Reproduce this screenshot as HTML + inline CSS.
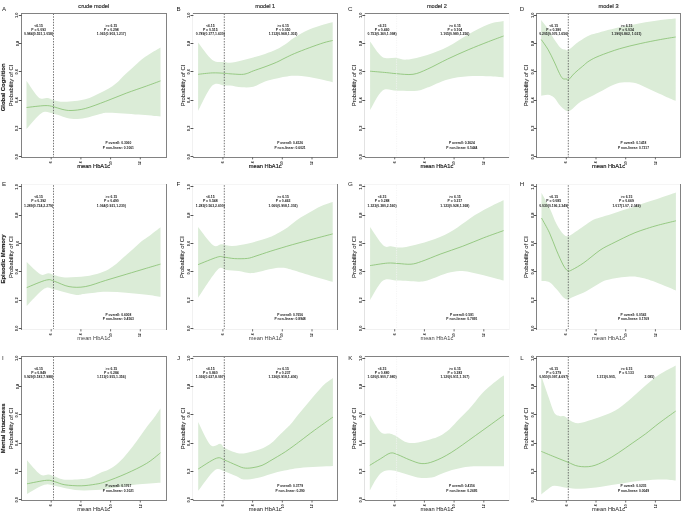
<!DOCTYPE html>
<html><head><meta charset="utf-8"><title>HbA1c RCS plots</title>
<style>html,body{margin:0;padding:0;background:#fff;width:685px;height:514px;overflow:hidden;font-family:"Liberation Sans",sans-serif;}svg{display:block;}</style>
</head><body><svg width="685" height="514" viewBox="0 0 685 514" font-family="Liberation Sans"><rect width="685" height="514" fill="#fff"/><path d="M26.50,80.70C28.53,83.48 35.12,94.50 38.70,97.40C42.28,100.30 45.55,97.63 48.00,98.10C50.45,98.57 50.58,99.58 53.40,100.20C56.22,100.82 59.58,101.95 64.90,101.80C70.22,101.65 79.45,100.78 85.30,99.30C91.15,97.82 96.17,94.65 100.00,92.90C103.83,91.15 105.55,90.45 108.30,88.80C111.05,87.15 113.75,85.35 116.50,83.00C119.25,80.65 122.03,77.32 124.80,74.70C127.57,72.08 130.35,69.78 133.10,67.30C135.85,64.82 138.55,62.02 141.30,59.80C144.05,57.58 146.40,56.05 149.60,54.00C152.80,51.95 158.68,48.58 160.50,47.50L160.50,116.60C156.85,116.27 147.10,115.25 138.60,114.60C130.10,113.95 115.93,112.82 109.50,112.70C103.07,112.58 104.08,113.03 100.00,113.90C95.92,114.77 89.77,117.08 85.00,117.90C80.23,118.72 76.67,119.50 71.40,118.80C66.13,118.10 58.33,114.68 53.40,113.70C48.47,112.72 46.28,110.35 41.80,112.90C37.32,115.45 29.05,126.32 26.50,129.00Z" fill="#dbecd7"/><path d="M26.50,107.50C29.57,107.18 40.42,105.73 44.90,105.60C49.38,105.47 50.55,106.08 53.40,106.70C56.25,107.32 59.07,108.67 62.00,109.30C64.93,109.93 67.12,110.63 71.00,110.50C74.88,110.37 79.52,110.03 85.30,108.50C91.08,106.97 98.88,103.85 105.70,101.30C112.52,98.75 119.38,95.75 126.20,93.20C133.02,90.65 140.88,88.05 146.60,86.00C152.32,83.95 158.18,81.75 160.50,80.90" fill="none" stroke="#80bd68" stroke-width="0.75"/><line x1="53.50" y1="13.50" x2="53.50" y2="157.20" stroke="#555" stroke-width="0.8" stroke-dasharray="1.5 1.25"/><line x1="21.00" y1="13.50" x2="167.00" y2="13.50" stroke="#828282" stroke-width="1"/><line x1="21.00" y1="157.50" x2="167.00" y2="157.50" stroke="#828282" stroke-width="1"/><line x1="21.50" y1="13.00" x2="21.50" y2="158.00" stroke="#828282" stroke-width="1"/><line x1="166.50" y1="13.00" x2="166.50" y2="158.00" stroke="#828282" stroke-width="1"/><line x1="51.20" y1="157.20" x2="51.20" y2="159.40" stroke="#5c5c5c" stroke-width="0.9"/><line x1="80.90" y1="157.20" x2="80.90" y2="159.40" stroke="#5c5c5c" stroke-width="0.9"/><line x1="110.60" y1="157.20" x2="110.60" y2="159.40" stroke="#5c5c5c" stroke-width="0.9"/><line x1="140.30" y1="157.20" x2="140.30" y2="159.40" stroke="#5c5c5c" stroke-width="0.9"/><path d="M198.10,42.60C200.47,45.50 207.88,56.77 212.30,60.00C216.72,63.23 221.65,61.53 224.60,62.00C227.55,62.47 227.15,63.07 230.00,62.80C232.85,62.53 237.82,61.28 241.70,60.40C245.58,59.52 249.42,58.57 253.30,57.50C257.18,56.43 261.10,55.37 265.00,54.00C268.90,52.63 273.37,50.88 276.70,49.30C280.03,47.72 282.02,46.47 285.00,44.50C287.98,42.53 290.57,39.98 294.60,37.50C298.63,35.02 304.33,31.77 309.20,29.60C314.07,27.43 319.88,25.72 323.80,24.50C327.72,23.28 331.22,22.67 332.70,22.30L332.70,82.20C331.22,81.83 327.72,80.87 323.80,80.00C319.88,79.13 314.07,77.70 309.20,77.00C304.33,76.30 298.63,75.83 294.60,75.80C290.57,75.77 287.98,76.35 285.00,76.80C282.02,77.25 280.03,77.73 276.70,78.50C273.37,79.27 268.90,80.03 265.00,81.40C261.10,82.77 257.18,85.72 253.30,86.70C249.42,87.68 245.58,87.50 241.70,87.30C237.82,87.10 232.85,85.78 230.00,85.50C227.15,85.22 227.55,85.58 224.60,85.60C221.65,85.62 216.72,81.35 212.30,85.60C207.88,89.85 200.47,106.85 198.10,111.10Z" fill="#dbecd7"/><path d="M198.10,74.30C200.47,74.07 207.88,73.07 212.30,72.90C216.72,72.73 221.65,73.15 224.60,73.30C227.55,73.45 227.15,73.62 230.00,73.80C232.85,73.98 238.78,74.48 241.70,74.40C244.62,74.32 245.57,73.88 247.50,73.30C249.43,72.72 250.38,71.98 253.30,70.90C256.22,69.82 261.10,68.25 265.00,66.80C268.90,65.35 273.37,63.67 276.70,62.20C280.03,60.73 282.02,59.45 285.00,58.00C287.98,56.55 290.57,55.20 294.60,53.50C298.63,51.80 304.33,49.60 309.20,47.80C314.07,46.00 319.88,43.92 323.80,42.70C327.72,41.48 331.22,40.87 332.70,40.50" fill="none" stroke="#80bd68" stroke-width="0.75"/><line x1="224.30" y1="13.50" x2="224.30" y2="157.20" stroke="#555" stroke-width="0.8" stroke-dasharray="1.5 1.25"/><line x1="192.00" y1="13.50" x2="338.00" y2="13.50" stroke="#828282" stroke-width="1"/><line x1="192.00" y1="157.50" x2="338.00" y2="157.50" stroke="#828282" stroke-width="1"/><line x1="192.50" y1="13.00" x2="192.50" y2="158.00" stroke="#f1f1f1" stroke-width="1"/><line x1="337.50" y1="13.00" x2="337.50" y2="158.00" stroke="#828282" stroke-width="1"/><line x1="222.90" y1="157.20" x2="222.90" y2="159.40" stroke="#5c5c5c" stroke-width="0.9"/><line x1="252.60" y1="157.20" x2="252.60" y2="159.40" stroke="#5c5c5c" stroke-width="0.9"/><line x1="282.30" y1="157.20" x2="282.30" y2="159.40" stroke="#5c5c5c" stroke-width="0.9"/><line x1="312.00" y1="157.20" x2="312.00" y2="159.40" stroke="#5c5c5c" stroke-width="0.9"/><path d="M370.10,41.60C372.13,44.15 377.87,54.18 382.30,56.90C386.73,59.62 392.60,57.45 396.70,57.90C400.80,58.35 401.80,60.10 406.90,59.60C412.00,59.10 420.50,57.05 427.30,54.90C434.10,52.75 440.88,50.12 447.70,46.70C454.52,43.28 461.38,38.15 468.20,34.40C475.02,30.65 482.70,26.43 488.60,24.20C494.50,21.97 501.10,21.53 503.60,21.00L503.60,77.40C501.10,77.22 494.50,76.48 488.60,76.30C482.70,76.12 475.02,75.78 468.20,76.30C461.38,76.82 454.52,77.52 447.70,79.40C440.88,81.28 432.40,85.72 427.30,87.60C422.20,89.48 422.20,90.18 417.10,90.70C412.00,91.22 402.50,90.70 396.70,90.70C390.90,90.70 386.73,87.47 382.30,90.70C377.87,93.93 372.13,106.87 370.10,110.10Z" fill="#dbecd7"/><path d="M370.10,71.20C372.82,71.43 381.97,72.18 386.40,72.60C390.83,73.02 392.27,73.42 396.70,73.70C401.13,73.98 407.90,75.05 413.00,74.30C418.10,73.55 421.52,71.75 427.30,69.20C433.08,66.65 440.88,62.23 447.70,59.00C454.52,55.77 461.38,52.70 468.20,49.80C475.02,46.90 482.70,43.90 488.60,41.60C494.50,39.30 501.10,36.93 503.60,36.00" fill="none" stroke="#80bd68" stroke-width="0.75"/><line x1="396.60" y1="13.50" x2="396.60" y2="157.20" stroke="#f2f2f2" stroke-width="0.8" stroke-dasharray="1.2 1.2"/><line x1="364.00" y1="13.50" x2="510.00" y2="13.50" stroke="#828282" stroke-width="1"/><line x1="364.00" y1="157.50" x2="510.00" y2="157.50" stroke="#828282" stroke-width="1"/><line x1="364.50" y1="13.00" x2="364.50" y2="158.00" stroke="#e2e2e2" stroke-width="1"/><line x1="509.50" y1="13.00" x2="509.50" y2="158.00" stroke="#f8f8f8" stroke-width="1"/><line x1="394.70" y1="157.20" x2="394.70" y2="159.40" stroke="#5c5c5c" stroke-width="0.9"/><line x1="424.40" y1="157.20" x2="424.40" y2="159.40" stroke="#5c5c5c" stroke-width="0.9"/><line x1="454.10" y1="157.20" x2="454.10" y2="159.40" stroke="#5c5c5c" stroke-width="0.9"/><line x1="483.80" y1="157.20" x2="483.80" y2="159.40" stroke="#5c5c5c" stroke-width="0.9"/><path d="M541.20,20.10C542.37,21.63 546.02,26.07 548.20,29.30C550.38,32.53 552.25,36.43 554.30,39.50C556.35,42.57 558.72,46.02 560.50,47.70C562.28,49.38 563.63,49.25 565.00,49.60C566.37,49.95 566.38,51.13 568.70,49.80C571.02,48.47 575.50,44.00 578.90,41.60C582.30,39.20 585.70,36.93 589.10,35.40C592.50,33.87 594.20,33.75 599.30,32.40C604.40,31.05 612.88,28.83 619.70,27.30C626.52,25.77 633.38,24.40 640.20,23.20C647.02,22.00 654.68,20.88 660.60,20.10C666.52,19.32 673.18,18.77 675.70,18.50L675.70,100.80C673.97,100.07 669.47,98.23 665.30,96.40C661.13,94.57 655.57,91.98 650.70,89.80C645.83,87.62 640.48,84.55 636.10,83.30C631.72,82.05 628.05,82.10 624.40,82.30C620.75,82.50 618.33,82.88 614.20,84.50C610.07,86.12 603.80,89.83 599.60,92.00C595.40,94.17 592.45,95.68 589.00,97.50C585.55,99.32 582.28,100.63 578.90,102.90C575.52,105.17 571.77,110.58 568.70,111.10C565.63,111.62 562.90,108.22 560.50,106.00C558.10,103.78 556.35,99.67 554.30,97.80C552.25,95.93 550.38,95.13 548.20,94.80C546.02,94.47 542.37,95.63 541.20,95.80Z" fill="#dbecd7"/><path d="M541.20,39.50C542.37,41.22 546.02,46.05 548.20,49.80C550.38,53.55 552.42,58.05 554.30,62.00C556.18,65.95 558.08,70.73 559.50,73.50C560.92,76.27 561.62,77.68 562.80,78.60C563.98,79.52 565.67,78.77 566.60,79.00C567.53,79.23 567.08,80.97 568.40,80.00C569.72,79.03 572.12,75.50 574.50,73.20C576.88,70.90 580.27,68.23 582.70,66.20C585.13,64.17 586.33,62.72 589.10,61.00C591.87,59.28 594.20,57.95 599.30,55.90C604.40,53.85 612.88,50.75 619.70,48.70C626.52,46.65 633.38,45.13 640.20,43.60C647.02,42.07 654.68,40.60 660.60,39.50C666.52,38.40 673.18,37.42 675.70,37.00" fill="none" stroke="#80bd68" stroke-width="0.75"/><line x1="568.30" y1="13.50" x2="568.30" y2="157.20" stroke="#555" stroke-width="0.8" stroke-dasharray="1.5 1.25"/><line x1="536.00" y1="13.50" x2="681.00" y2="13.50" stroke="#828282" stroke-width="1"/><line x1="536.00" y1="157.50" x2="681.00" y2="157.50" stroke="#828282" stroke-width="1"/><line x1="536.50" y1="13.00" x2="536.50" y2="158.00" stroke="#828282" stroke-width="1"/><line x1="680.50" y1="13.00" x2="680.50" y2="158.00" stroke="#828282" stroke-width="1"/><line x1="566.30" y1="157.20" x2="566.30" y2="159.40" stroke="#5c5c5c" stroke-width="0.9"/><line x1="596.00" y1="157.20" x2="596.00" y2="159.40" stroke="#5c5c5c" stroke-width="0.9"/><line x1="625.70" y1="157.20" x2="625.70" y2="159.40" stroke="#5c5c5c" stroke-width="0.9"/><line x1="655.40" y1="157.20" x2="655.40" y2="159.40" stroke="#5c5c5c" stroke-width="0.9"/><path d="M26.70,262.00C28.98,264.05 36.77,272.42 40.40,274.30C44.03,276.18 46.12,273.13 48.50,273.30C50.88,273.47 51.97,274.62 54.70,275.30C57.43,275.98 59.80,277.23 64.90,277.40C70.00,277.57 79.45,277.05 85.30,276.30C91.15,275.55 96.17,274.03 100.00,272.90C103.83,271.77 105.55,271.02 108.30,269.50C111.05,267.98 113.75,266.00 116.50,263.80C119.25,261.60 122.03,258.78 124.80,256.30C127.57,253.82 130.35,251.38 133.10,248.90C135.85,246.42 138.55,243.60 141.30,241.40C144.05,239.20 146.40,238.05 149.60,235.70C152.80,233.35 158.68,228.70 160.50,227.30L160.50,296.80C158.18,296.45 152.32,295.38 146.60,294.70C140.88,294.02 133.02,293.20 126.20,292.70C119.38,292.20 112.52,291.53 105.70,291.70C98.88,291.87 90.40,293.20 85.30,293.70C80.20,294.20 80.20,295.38 75.10,294.70C70.00,294.02 59.82,290.62 54.70,289.60C49.58,288.58 49.07,285.87 44.40,288.60C39.73,291.33 29.65,303.10 26.70,306.00Z" fill="#dbecd7"/><path d="M26.70,287.60C30.00,286.33 41.83,281.03 46.50,280.00C51.17,278.97 50.95,280.30 54.70,281.40C58.45,282.50 63.90,285.73 69.00,286.60C74.10,287.47 79.18,287.63 85.30,286.60C91.42,285.57 98.88,282.45 105.70,280.40C112.52,278.35 119.38,276.33 126.20,274.30C133.02,272.27 140.88,269.90 146.60,268.20C152.32,266.50 158.18,264.78 160.50,264.10" fill="none" stroke="#80bd68" stroke-width="0.75"/><line x1="53.50" y1="185.20" x2="53.50" y2="329.20" stroke="#555" stroke-width="0.8" stroke-dasharray="1.5 1.25"/><line x1="21.00" y1="184.50" x2="167.00" y2="184.50" stroke="#f5f5f5" stroke-width="1"/><line x1="21.00" y1="329.50" x2="167.00" y2="329.50" stroke="#f1f1f1" stroke-width="1"/><line x1="21.50" y1="184.00" x2="21.50" y2="330.00" stroke="#828282" stroke-width="1"/><line x1="166.50" y1="184.00" x2="166.50" y2="330.00" stroke="#828282" stroke-width="1"/><line x1="51.20" y1="329.20" x2="51.20" y2="331.40" stroke="#5c5c5c" stroke-width="0.9"/><line x1="80.90" y1="329.20" x2="80.90" y2="331.40" stroke="#5c5c5c" stroke-width="0.9"/><line x1="110.60" y1="329.20" x2="110.60" y2="331.40" stroke="#5c5c5c" stroke-width="0.9"/><line x1="140.30" y1="329.20" x2="140.30" y2="331.40" stroke="#5c5c5c" stroke-width="0.9"/><path d="M198.10,227.10C200.60,230.13 209.17,242.45 213.10,245.30C217.03,248.15 218.48,244.10 221.70,244.20C224.92,244.30 227.77,246.07 232.40,245.90C237.03,245.73 243.23,244.68 249.50,243.20C255.77,241.72 265.12,238.75 270.00,237.00C274.88,235.25 275.88,234.30 278.80,232.70C281.72,231.10 284.58,229.45 287.50,227.40C290.42,225.35 293.38,222.45 296.30,220.40C299.22,218.35 302.08,216.85 305.00,215.10C307.92,213.35 310.88,211.50 313.80,209.90C316.72,208.30 319.35,206.82 322.50,205.50C325.65,204.18 331.00,202.58 332.70,202.00L332.70,281.80C329.53,280.90 320.43,278.38 313.70,276.40C306.97,274.42 297.65,271.33 292.30,269.90C286.95,268.47 285.17,267.97 281.60,267.80C278.03,267.63 275.88,268.02 270.90,268.90C265.92,269.78 257.05,272.75 251.70,273.10C246.35,273.45 243.08,271.53 238.80,271.00C234.52,270.47 229.57,270.08 226.00,269.90C222.43,269.72 222.05,265.25 217.40,269.90C212.75,274.55 201.32,293.15 198.10,297.80Z" fill="#dbecd7"/><path d="M198.10,264.60C201.32,263.35 213.12,258.35 217.40,257.10C221.68,255.85 220.95,256.85 223.80,257.10C226.65,257.35 230.57,258.38 234.50,258.60C238.43,258.82 243.82,258.83 247.40,258.40C250.98,257.97 252.08,257.22 256.00,256.00C259.92,254.78 264.85,252.98 270.90,251.10C276.95,249.22 285.17,246.73 292.30,244.70C299.43,242.67 306.97,240.70 313.70,238.90C320.43,237.10 329.53,234.73 332.70,233.90" fill="none" stroke="#80bd68" stroke-width="0.75"/><line x1="224.30" y1="185.20" x2="224.30" y2="329.20" stroke="#555" stroke-width="0.8" stroke-dasharray="1.5 1.25"/><line x1="192.00" y1="184.50" x2="338.00" y2="184.50" stroke="#f5f5f5" stroke-width="1"/><line x1="192.00" y1="329.50" x2="338.00" y2="329.50" stroke="#f1f1f1" stroke-width="1"/><line x1="192.50" y1="184.00" x2="192.50" y2="330.00" stroke="#f1f1f1" stroke-width="1"/><line x1="337.50" y1="184.00" x2="337.50" y2="330.00" stroke="#828282" stroke-width="1"/><line x1="222.90" y1="329.20" x2="222.90" y2="331.40" stroke="#5c5c5c" stroke-width="0.9"/><line x1="252.60" y1="329.20" x2="252.60" y2="331.40" stroke="#5c5c5c" stroke-width="0.9"/><line x1="282.30" y1="329.20" x2="282.30" y2="331.40" stroke="#5c5c5c" stroke-width="0.9"/><line x1="312.00" y1="329.20" x2="312.00" y2="331.40" stroke="#5c5c5c" stroke-width="0.9"/><path d="M370.10,227.10C372.27,230.13 379.50,242.08 383.10,245.30C386.70,248.52 388.48,246.03 391.70,246.40C394.92,246.77 397.77,247.93 402.40,247.50C407.03,247.07 413.23,245.55 419.50,243.80C425.77,242.05 433.67,239.73 440.00,237.00C446.33,234.27 451.67,231.05 457.50,227.40C463.33,223.75 469.17,218.75 475.00,215.10C480.83,211.45 487.73,207.97 492.50,205.50C497.27,203.03 501.75,201.17 503.60,200.30L503.60,280.60C500.28,279.72 490.58,276.90 483.70,275.30C476.82,273.70 468.35,271.37 462.30,271.00C456.25,270.63 452.75,271.67 447.40,273.10C442.05,274.53 434.85,278.17 430.20,279.60C425.55,281.03 424.85,281.53 419.50,281.70C414.15,281.87 404.17,280.78 398.10,280.60C392.03,280.42 387.77,277.38 383.10,280.60C378.43,283.82 372.27,296.68 370.10,299.90Z" fill="#dbecd7"/><path d="M370.10,265.60C372.98,265.18 382.73,263.45 387.40,263.10C392.07,262.75 394.17,263.32 398.10,263.50C402.03,263.68 407.07,264.55 411.00,264.20C414.93,263.85 416.72,263.12 421.70,261.40C426.68,259.68 434.13,256.40 440.90,253.90C447.67,251.40 455.17,249.08 462.30,246.40C469.43,243.72 476.82,240.43 483.70,237.80C490.58,235.17 500.28,231.80 503.60,230.60" fill="none" stroke="#80bd68" stroke-width="0.75"/><line x1="396.60" y1="185.20" x2="396.60" y2="329.20" stroke="#f2f2f2" stroke-width="0.8" stroke-dasharray="1.2 1.2"/><line x1="364.00" y1="184.50" x2="510.00" y2="184.50" stroke="#f5f5f5" stroke-width="1"/><line x1="364.00" y1="329.50" x2="510.00" y2="329.50" stroke="#f1f1f1" stroke-width="1"/><line x1="364.50" y1="184.00" x2="364.50" y2="330.00" stroke="#e2e2e2" stroke-width="1"/><line x1="509.50" y1="184.00" x2="509.50" y2="330.00" stroke="#f8f8f8" stroke-width="1"/><line x1="394.70" y1="329.20" x2="394.70" y2="331.40" stroke="#5c5c5c" stroke-width="0.9"/><line x1="424.40" y1="329.20" x2="424.40" y2="331.40" stroke="#5c5c5c" stroke-width="0.9"/><line x1="454.10" y1="329.20" x2="454.10" y2="331.40" stroke="#5c5c5c" stroke-width="0.9"/><line x1="483.80" y1="329.20" x2="483.80" y2="331.40" stroke="#5c5c5c" stroke-width="0.9"/><path d="M541.50,192.70C542.83,195.20 547.02,202.53 549.50,207.70C551.98,212.87 554.12,219.32 556.40,223.70C558.68,228.08 561.30,231.90 563.20,234.00C565.10,236.10 566.27,236.30 567.80,236.30C569.33,236.30 569.72,235.72 572.40,234.00C575.08,232.28 580.63,228.25 583.90,226.00C587.17,223.75 589.32,221.92 592.00,220.50C594.68,219.08 596.72,218.58 600.00,217.50C603.28,216.42 607.80,215.27 611.70,214.00C615.60,212.73 619.52,211.17 623.40,209.90C627.28,208.63 631.12,207.67 635.00,206.40C638.88,205.13 642.53,203.70 646.70,202.30C650.87,200.90 655.13,199.63 660.00,198.00C664.87,196.37 673.25,193.42 675.90,192.50L675.90,290.50C672.05,288.93 658.57,283.23 652.80,281.10C647.03,278.97 645.13,278.47 641.30,277.70C637.47,276.93 635.53,276.12 629.80,276.50C624.07,276.88 612.63,278.47 606.90,280.00C601.17,281.53 599.23,283.60 595.40,285.70C591.57,287.80 587.73,290.68 583.90,292.60C580.07,294.52 575.08,296.05 572.40,297.20C569.72,298.35 569.33,299.50 567.80,299.50C566.27,299.50 565.10,298.93 563.20,297.20C561.30,295.47 558.68,291.60 556.40,289.10C554.12,286.60 551.98,283.53 549.50,282.20C547.02,280.87 542.83,281.28 541.50,281.10Z" fill="#dbecd7"/><path d="M541.50,218.00C542.83,220.48 547.02,227.55 549.50,232.90C551.98,238.25 554.12,244.75 556.40,250.10C558.68,255.45 561.30,261.55 563.20,265.00C565.10,268.45 566.27,270.03 567.80,270.80C569.33,271.57 569.72,270.95 572.40,269.60C575.08,268.25 579.30,265.93 583.90,262.70C588.50,259.47 595.37,253.35 600.00,250.20C604.63,247.05 607.80,245.83 611.70,243.80C615.60,241.77 619.52,239.85 623.40,238.00C627.28,236.15 631.12,234.27 635.00,232.70C638.88,231.13 642.80,229.87 646.70,228.60C650.60,227.33 653.53,226.40 658.40,225.10C663.27,223.80 672.98,221.52 675.90,220.80" fill="none" stroke="#80bd68" stroke-width="0.75"/><line x1="568.30" y1="185.20" x2="568.30" y2="329.20" stroke="#555" stroke-width="0.8" stroke-dasharray="1.5 1.25"/><line x1="536.00" y1="184.50" x2="681.00" y2="184.50" stroke="#f5f5f5" stroke-width="1"/><line x1="536.00" y1="329.50" x2="681.00" y2="329.50" stroke="#f1f1f1" stroke-width="1"/><line x1="536.50" y1="184.00" x2="536.50" y2="330.00" stroke="#828282" stroke-width="1"/><line x1="680.50" y1="184.00" x2="680.50" y2="330.00" stroke="#828282" stroke-width="1"/><line x1="566.30" y1="329.20" x2="566.30" y2="331.40" stroke="#5c5c5c" stroke-width="0.9"/><line x1="596.00" y1="329.20" x2="596.00" y2="331.40" stroke="#5c5c5c" stroke-width="0.9"/><line x1="625.70" y1="329.20" x2="625.70" y2="331.40" stroke="#5c5c5c" stroke-width="0.9"/><line x1="655.40" y1="329.20" x2="655.40" y2="331.40" stroke="#5c5c5c" stroke-width="0.9"/><path d="M27.00,460.30C29.23,462.68 36.82,472.22 40.40,474.60C43.98,476.98 46.12,474.27 48.50,474.60C50.88,474.93 51.97,475.75 54.70,476.60C57.43,477.45 59.80,479.35 64.90,479.70C70.00,480.05 80.62,479.23 85.30,478.70C89.98,478.17 90.55,477.45 93.00,476.50C95.45,475.55 97.30,474.20 100.00,473.00C102.70,471.80 106.12,471.00 109.20,469.30C112.28,467.60 115.42,465.57 118.50,462.80C121.58,460.03 124.62,456.38 127.70,452.70C130.78,449.02 133.92,444.87 137.00,440.70C140.08,436.53 143.12,431.87 146.20,427.70C149.28,423.53 153.12,418.93 155.50,415.70C157.88,412.47 159.67,409.53 160.50,408.30L160.50,482.80C156.48,483.08 143.82,483.73 136.40,484.50C128.98,485.27 122.82,486.48 116.00,487.40C109.18,488.32 102.32,489.57 95.50,490.00C88.68,490.43 81.90,490.70 75.10,490.00C68.30,489.30 59.82,486.67 54.70,485.80C49.58,484.93 49.02,483.43 44.40,484.80C39.78,486.17 29.90,492.47 27.00,494.00Z" fill="#dbecd7"/><path d="M27.00,483.80C30.25,483.22 41.88,480.65 46.50,480.30C51.12,479.95 51.63,480.95 54.70,481.70C57.77,482.45 60.48,484.12 64.90,484.80C69.32,485.48 76.10,485.90 81.20,485.80C86.30,485.70 91.42,484.88 95.50,484.20C99.58,483.52 100.58,483.47 105.70,481.70C110.82,479.93 119.38,476.65 126.20,473.60C133.02,470.55 140.88,466.87 146.60,463.40C152.32,459.93 158.18,454.57 160.50,452.80" fill="none" stroke="#80bd68" stroke-width="0.75"/><line x1="53.50" y1="356.50" x2="53.50" y2="500.30" stroke="#555" stroke-width="0.8" stroke-dasharray="1.5 1.25"/><line x1="21.00" y1="356.50" x2="167.00" y2="356.50" stroke="#828282" stroke-width="1"/><line x1="21.00" y1="500.50" x2="167.00" y2="500.50" stroke="#828282" stroke-width="1"/><line x1="21.50" y1="356.00" x2="21.50" y2="501.00" stroke="#828282" stroke-width="1"/><line x1="166.50" y1="356.00" x2="166.50" y2="501.00" stroke="#828282" stroke-width="1"/><line x1="51.20" y1="500.30" x2="51.20" y2="502.50" stroke="#5c5c5c" stroke-width="0.9"/><line x1="80.90" y1="500.30" x2="80.90" y2="502.50" stroke="#5c5c5c" stroke-width="0.9"/><line x1="110.60" y1="500.30" x2="110.60" y2="502.50" stroke="#5c5c5c" stroke-width="0.9"/><line x1="140.30" y1="500.30" x2="140.30" y2="502.50" stroke="#5c5c5c" stroke-width="0.9"/><path d="M198.20,422.00C200.23,425.82 206.67,441.25 210.40,444.90C214.13,448.55 218.22,443.38 220.60,443.90C222.98,444.42 221.98,446.48 224.70,448.00C227.42,449.52 233.52,452.13 236.90,453.00C240.28,453.87 241.52,453.70 245.00,453.20C248.48,452.70 254.37,451.07 257.80,450.00C261.23,448.93 263.02,448.23 265.60,446.80C268.18,445.37 270.72,443.60 273.30,441.40C275.88,439.20 278.98,435.70 281.10,433.60C283.22,431.50 284.38,430.40 286.00,428.80C287.62,427.20 289.02,426.07 290.80,424.00C292.58,421.93 294.75,418.83 296.70,416.40C298.65,413.97 300.55,411.73 302.50,409.40C304.45,407.07 306.45,404.73 308.40,402.40C310.35,400.07 312.27,397.65 314.20,395.40C316.13,393.15 318.05,390.95 320.00,388.90C321.95,386.85 323.75,384.93 325.90,383.10C328.05,381.27 331.73,378.77 332.90,377.90L332.90,466.10C327.42,466.40 308.07,467.15 300.00,467.90C291.93,468.65 289.35,469.58 284.50,470.60C279.65,471.62 275.45,472.75 270.90,474.00C266.35,475.25 261.75,477.18 257.20,478.10C252.65,479.02 247.13,479.85 243.60,479.50C240.07,479.15 239.15,477.35 236.00,476.00C232.85,474.65 228.28,472.33 224.70,471.40C221.12,470.47 218.92,467.17 214.50,470.40C210.08,473.63 200.92,487.40 198.20,490.80Z" fill="#dbecd7"/><path d="M198.20,469.00C201.25,467.20 212.08,459.67 216.50,458.20C220.92,456.73 221.45,459.07 224.70,460.20C227.95,461.33 232.85,463.72 236.00,465.00C239.15,466.28 240.93,467.43 243.60,467.90C246.27,468.37 248.93,468.22 252.00,467.80C255.07,467.38 259.03,466.52 262.00,465.40C264.97,464.28 267.20,462.58 269.80,461.10C272.40,459.62 275.02,458.05 277.60,456.50C280.18,454.95 282.72,453.50 285.30,451.80C287.88,450.10 290.50,448.18 293.10,446.30C295.70,444.42 297.35,443.17 300.90,440.50C304.45,437.83 309.07,434.20 314.40,430.30C319.73,426.40 329.82,419.30 332.90,417.10" fill="none" stroke="#80bd68" stroke-width="0.75"/><line x1="224.30" y1="356.50" x2="224.30" y2="500.30" stroke="#555" stroke-width="0.8" stroke-dasharray="1.5 1.25"/><line x1="192.00" y1="356.50" x2="338.00" y2="356.50" stroke="#828282" stroke-width="1"/><line x1="192.00" y1="500.50" x2="338.00" y2="500.50" stroke="#828282" stroke-width="1"/><line x1="192.50" y1="356.00" x2="192.50" y2="501.00" stroke="#f1f1f1" stroke-width="1"/><line x1="337.50" y1="356.00" x2="337.50" y2="501.00" stroke="#828282" stroke-width="1"/><line x1="222.90" y1="500.30" x2="222.90" y2="502.50" stroke="#5c5c5c" stroke-width="0.9"/><line x1="252.60" y1="500.30" x2="252.60" y2="502.50" stroke="#5c5c5c" stroke-width="0.9"/><line x1="282.30" y1="500.30" x2="282.30" y2="502.50" stroke="#5c5c5c" stroke-width="0.9"/><line x1="312.00" y1="500.30" x2="312.00" y2="502.50" stroke="#5c5c5c" stroke-width="0.9"/><path d="M369.80,415.00C371.60,417.83 377.18,428.88 380.60,432.00C384.02,435.12 387.87,433.10 390.30,433.70C392.73,434.30 392.77,434.27 395.20,435.60C397.63,436.93 401.67,440.48 404.90,441.70C408.13,442.92 410.42,443.28 414.60,442.90C418.78,442.52 425.82,440.55 430.00,439.40C434.18,438.25 436.45,437.70 439.70,436.00C442.95,434.30 446.25,432.03 449.50,429.20C452.75,426.37 456.00,422.28 459.20,419.00C462.40,415.72 466.27,412.08 468.70,409.50C471.13,406.92 471.50,406.25 473.80,403.50C476.10,400.75 479.58,396.07 482.50,393.00C485.42,389.93 488.38,387.58 491.30,385.10C494.22,382.62 497.88,379.70 500.00,378.10C502.12,376.50 503.33,375.93 504.00,375.50L504.00,466.30C501.67,466.28 495.03,466.20 490.00,466.20C484.97,466.20 478.32,466.10 473.80,466.30C469.28,466.50 466.55,466.77 462.90,467.40C459.25,468.03 455.55,469.00 451.90,470.10C448.25,471.20 443.97,472.87 441.00,474.00C438.03,475.13 436.95,476.23 434.10,476.90C431.25,477.57 426.98,478.00 423.90,478.00C420.82,478.00 418.37,477.48 415.60,476.90C412.83,476.32 410.05,475.32 407.30,474.50C404.55,473.68 401.85,472.70 399.10,472.00C396.35,471.30 393.57,470.30 390.80,470.30C388.03,470.30 384.98,470.48 382.50,472.00C380.02,473.52 378.02,476.32 375.90,479.40C373.78,482.48 370.82,488.65 369.80,490.50Z" fill="#dbecd7"/><path d="M369.80,465.30C371.60,464.20 377.18,460.73 380.60,458.70C384.02,456.67 387.47,453.78 390.30,453.10C393.13,452.42 394.35,453.47 397.60,454.60C400.85,455.73 405.75,458.40 409.80,459.90C413.85,461.40 417.85,463.38 421.90,463.60C425.95,463.82 429.23,463.03 434.10,461.20C438.97,459.37 444.22,456.87 451.10,452.60C457.98,448.33 466.58,441.87 475.40,435.60C484.22,429.33 499.23,418.43 504.00,415.00" fill="none" stroke="#80bd68" stroke-width="0.75"/><line x1="396.60" y1="356.50" x2="396.60" y2="500.30" stroke="#f2f2f2" stroke-width="0.8" stroke-dasharray="1.2 1.2"/><line x1="364.00" y1="356.50" x2="510.00" y2="356.50" stroke="#828282" stroke-width="1"/><line x1="364.00" y1="500.50" x2="510.00" y2="500.50" stroke="#828282" stroke-width="1"/><line x1="364.50" y1="356.00" x2="364.50" y2="501.00" stroke="#e2e2e2" stroke-width="1"/><line x1="509.50" y1="356.00" x2="509.50" y2="501.00" stroke="#f8f8f8" stroke-width="1"/><line x1="394.70" y1="500.30" x2="394.70" y2="502.50" stroke="#5c5c5c" stroke-width="0.9"/><line x1="424.40" y1="500.30" x2="424.40" y2="502.50" stroke="#5c5c5c" stroke-width="0.9"/><line x1="454.10" y1="500.30" x2="454.10" y2="502.50" stroke="#5c5c5c" stroke-width="0.9"/><line x1="483.80" y1="500.30" x2="483.80" y2="502.50" stroke="#5c5c5c" stroke-width="0.9"/><path d="M541.30,376.10C542.53,379.68 546.57,391.55 548.70,397.60C550.83,403.65 552.30,409.35 554.10,412.40C555.90,415.45 557.70,415.23 559.50,415.90C561.30,416.57 563.12,415.63 564.90,416.40C566.68,417.17 567.97,419.37 570.20,420.50C572.43,421.63 574.72,423.33 578.30,423.20C581.88,423.07 587.22,421.05 591.70,419.70C596.18,418.35 600.72,416.98 605.20,415.10C609.68,413.22 614.12,411.32 618.60,408.40C623.08,405.48 627.62,401.42 632.10,397.60C636.58,393.78 641.02,389.30 645.50,385.50C649.98,381.70 653.97,378.15 659.00,374.80C664.03,371.45 672.92,366.97 675.70,365.40L675.70,480.60C673.53,480.42 668.28,479.50 662.70,479.50C657.12,479.50 649.02,479.92 642.20,480.60C635.38,481.28 628.62,482.58 621.80,483.60C614.98,484.62 608.12,485.85 601.30,486.70C594.48,487.55 586.68,488.53 580.90,488.70C575.12,488.87 571.03,488.20 566.60,487.70C562.17,487.20 557.28,485.57 554.30,485.70C551.32,485.83 550.87,487.05 548.70,488.50C546.53,489.95 542.53,493.42 541.30,494.40Z" fill="#dbecd7"/><path d="M541.30,451.40C543.43,452.28 549.72,454.92 554.10,456.70C558.48,458.48 563.57,460.52 567.60,462.10C571.63,463.68 574.28,465.52 578.30,466.20C582.32,466.88 587.22,467.10 591.70,466.20C596.18,465.30 600.72,463.05 605.20,460.80C609.68,458.55 614.12,455.62 618.60,452.70C623.08,449.78 627.62,446.43 632.10,443.30C636.58,440.17 641.02,437.25 645.50,433.90C649.98,430.55 653.97,427.00 659.00,423.20C664.03,419.40 672.92,413.12 675.70,411.10" fill="none" stroke="#80bd68" stroke-width="0.75"/><line x1="568.30" y1="356.50" x2="568.30" y2="500.30" stroke="#555" stroke-width="0.8" stroke-dasharray="1.5 1.25"/><line x1="536.00" y1="356.50" x2="681.00" y2="356.50" stroke="#828282" stroke-width="1"/><line x1="536.00" y1="500.50" x2="681.00" y2="500.50" stroke="#828282" stroke-width="1"/><line x1="536.50" y1="356.00" x2="536.50" y2="501.00" stroke="#828282" stroke-width="1"/><line x1="680.50" y1="356.00" x2="680.50" y2="501.00" stroke="#828282" stroke-width="1"/><line x1="566.30" y1="500.30" x2="566.30" y2="502.50" stroke="#5c5c5c" stroke-width="0.9"/><line x1="596.00" y1="500.30" x2="596.00" y2="502.50" stroke="#5c5c5c" stroke-width="0.9"/><line x1="625.70" y1="500.30" x2="625.70" y2="502.50" stroke="#5c5c5c" stroke-width="0.9"/><line x1="655.40" y1="500.30" x2="655.40" y2="502.50" stroke="#5c5c5c" stroke-width="0.9"/><g style="filter:grayscale(1)"><line x1="18.80" y1="15.50" x2="21.70" y2="15.50" stroke="#555" stroke-width="1"/><text x="18.50" y="15.20" font-size="4.00" text-anchor="middle" font-weight="bold" fill="#222" transform="rotate(-90 18.50 15.20)">1.0</text><line x1="18.80" y1="43.50" x2="21.70" y2="43.50" stroke="#555" stroke-width="1"/><text x="18.50" y="43.50" font-size="4.00" text-anchor="middle" font-weight="bold" fill="#222" transform="rotate(-90 18.50 43.50)">0.8</text><line x1="18.80" y1="71.50" x2="21.70" y2="71.50" stroke="#555" stroke-width="1"/><text x="18.50" y="71.80" font-size="4.00" text-anchor="middle" font-weight="bold" fill="#222" transform="rotate(-90 18.50 71.80)">0.6</text><line x1="18.80" y1="100.50" x2="21.70" y2="100.50" stroke="#555" stroke-width="1"/><text x="18.50" y="100.10" font-size="4.00" text-anchor="middle" font-weight="bold" fill="#222" transform="rotate(-90 18.50 100.10)">0.4</text><line x1="18.80" y1="128.50" x2="21.70" y2="128.50" stroke="#555" stroke-width="1"/><text x="18.50" y="128.40" font-size="4.00" text-anchor="middle" font-weight="bold" fill="#222" transform="rotate(-90 18.50 128.40)">0.2</text><line x1="18.80" y1="156.50" x2="21.70" y2="156.50" stroke="#555" stroke-width="1"/><text x="18.50" y="156.70" font-size="4.00" text-anchor="middle" font-weight="bold" fill="#222" transform="rotate(-90 18.50 156.70)">0.0</text><text x="52.40" y="161.40" font-size="3.30" text-anchor="end" font-weight="bold" fill="#222" transform="rotate(-90 52.40 161.40)">6</text><text x="82.10" y="161.40" font-size="3.30" text-anchor="end" font-weight="bold" fill="#222" transform="rotate(-90 82.10 161.40)">8</text><text x="111.80" y="161.40" font-size="3.30" text-anchor="end" font-weight="bold" fill="#222" transform="rotate(-90 111.80 161.40)">10</text><text x="141.50" y="161.40" font-size="3.30" text-anchor="end" font-weight="bold" fill="#222" transform="rotate(-90 141.50 161.40)">12</text><text x="93.75" y="168.30" font-size="5.70" text-anchor="middle" font-weight="normal" fill="#222" stroke="#222" stroke-width="0.18">mean HbA1c</text><text x="12.80" y="85.50" font-size="5.90" text-anchor="middle" font-weight="normal" fill="#222" transform="rotate(-90 12.80 85.50)" stroke="#222" stroke-width="0.08">Probability of CI</text><text x="1.90" y="11.00" font-size="6.20" text-anchor="start" font-weight="normal" fill="#222">A</text><text x="38.60" y="26.90" font-size="3.45" text-anchor="middle" font-weight="bold" fill="#222">&lt;6.15</text><text x="38.60" y="31.10" font-size="3.45" text-anchor="middle" font-weight="bold" fill="#222">P = 0.093</text><text x="38.60" y="35.30" font-size="3.45" text-anchor="middle" font-weight="bold" fill="#222">0.984(0.551,1.058)</text><text x="111.40" y="26.90" font-size="3.45" text-anchor="middle" font-weight="bold" fill="#222">&gt;= 6.15</text><text x="111.40" y="31.10" font-size="3.45" text-anchor="middle" font-weight="bold" fill="#222">P = 0.298</text><text x="111.40" y="35.30" font-size="3.45" text-anchor="middle" font-weight="bold" fill="#222">1.061(0.903,1.217)</text><text x="118.40" y="144.20" font-size="3.30" text-anchor="middle" font-weight="bold" fill="#222">P overall: 0.3060</text><text x="118.40" y="148.50" font-size="3.30" text-anchor="middle" font-weight="bold" fill="#222">P non-linear: 0.1061</text><line x1="190.50" y1="15.50" x2="193.40" y2="15.50" stroke="#555" stroke-width="1"/><text x="190.20" y="15.20" font-size="4.00" text-anchor="middle" font-weight="bold" fill="#222" transform="rotate(-90 190.20 15.20)">1.0</text><line x1="190.50" y1="43.50" x2="193.40" y2="43.50" stroke="#555" stroke-width="1"/><text x="190.20" y="43.50" font-size="4.00" text-anchor="middle" font-weight="bold" fill="#222" transform="rotate(-90 190.20 43.50)">0.8</text><line x1="190.50" y1="71.50" x2="193.40" y2="71.50" stroke="#555" stroke-width="1"/><text x="190.20" y="71.80" font-size="4.00" text-anchor="middle" font-weight="bold" fill="#222" transform="rotate(-90 190.20 71.80)">0.6</text><line x1="190.50" y1="100.50" x2="193.40" y2="100.50" stroke="#555" stroke-width="1"/><text x="190.20" y="100.10" font-size="4.00" text-anchor="middle" font-weight="bold" fill="#222" transform="rotate(-90 190.20 100.10)">0.4</text><line x1="190.50" y1="128.50" x2="193.40" y2="128.50" stroke="#555" stroke-width="1"/><text x="190.20" y="128.40" font-size="4.00" text-anchor="middle" font-weight="bold" fill="#222" transform="rotate(-90 190.20 128.40)">0.2</text><line x1="190.50" y1="156.50" x2="193.40" y2="156.50" stroke="#555" stroke-width="1"/><text x="190.20" y="156.70" font-size="4.00" text-anchor="middle" font-weight="bold" fill="#222" transform="rotate(-90 190.20 156.70)">0.0</text><text x="224.10" y="161.40" font-size="3.30" text-anchor="end" font-weight="bold" fill="#222" transform="rotate(-90 224.10 161.40)">6</text><text x="253.80" y="161.40" font-size="3.30" text-anchor="end" font-weight="bold" fill="#222" transform="rotate(-90 253.80 161.40)">8</text><text x="283.50" y="161.40" font-size="3.30" text-anchor="end" font-weight="bold" fill="#222" transform="rotate(-90 283.50 161.40)">10</text><text x="313.20" y="161.40" font-size="3.30" text-anchor="end" font-weight="bold" fill="#222" transform="rotate(-90 313.20 161.40)">12</text><text x="265.25" y="168.30" font-size="5.70" text-anchor="middle" font-weight="normal" fill="#222" stroke="#222" stroke-width="0.18">mean HbA1c</text><text x="184.50" y="85.50" font-size="5.90" text-anchor="middle" font-weight="normal" fill="#222" transform="rotate(-90 184.50 85.50)" stroke="#222" stroke-width="0.08">Probability of CI</text><text x="178.50" y="11.00" font-size="6.20" text-anchor="middle" font-weight="normal" fill="#222">B</text><text x="210.30" y="26.90" font-size="3.45" text-anchor="middle" font-weight="bold" fill="#222">&lt;6.15</text><text x="210.30" y="31.10" font-size="3.45" text-anchor="middle" font-weight="bold" fill="#222">P = 0.515</text><text x="210.30" y="35.30" font-size="3.45" text-anchor="middle" font-weight="bold" fill="#222">0.789(0.377,1.630)</text><text x="283.10" y="26.90" font-size="3.45" text-anchor="middle" font-weight="bold" fill="#222">&gt;= 6.15</text><text x="283.10" y="31.10" font-size="3.45" text-anchor="middle" font-weight="bold" fill="#222">P &lt; 0.050</text><text x="283.10" y="35.30" font-size="3.45" text-anchor="middle" font-weight="bold" fill="#222">1.112(0.968,1.302)</text><text x="290.10" y="144.20" font-size="3.30" text-anchor="middle" font-weight="bold" fill="#222">P overall: 0.4126</text><text x="290.10" y="148.50" font-size="3.30" text-anchor="middle" font-weight="bold" fill="#222">P non-linear: 0.6021</text><line x1="362.30" y1="15.50" x2="365.20" y2="15.50" stroke="#555" stroke-width="1"/><text x="362.00" y="15.20" font-size="4.00" text-anchor="middle" font-weight="bold" fill="#222" transform="rotate(-90 362.00 15.20)">1.0</text><line x1="362.30" y1="43.50" x2="365.20" y2="43.50" stroke="#555" stroke-width="1"/><text x="362.00" y="43.50" font-size="4.00" text-anchor="middle" font-weight="bold" fill="#222" transform="rotate(-90 362.00 43.50)">0.8</text><line x1="362.30" y1="71.50" x2="365.20" y2="71.50" stroke="#555" stroke-width="1"/><text x="362.00" y="71.80" font-size="4.00" text-anchor="middle" font-weight="bold" fill="#222" transform="rotate(-90 362.00 71.80)">0.6</text><line x1="362.30" y1="100.50" x2="365.20" y2="100.50" stroke="#555" stroke-width="1"/><text x="362.00" y="100.10" font-size="4.00" text-anchor="middle" font-weight="bold" fill="#222" transform="rotate(-90 362.00 100.10)">0.4</text><line x1="362.30" y1="128.50" x2="365.20" y2="128.50" stroke="#555" stroke-width="1"/><text x="362.00" y="128.40" font-size="4.00" text-anchor="middle" font-weight="bold" fill="#222" transform="rotate(-90 362.00 128.40)">0.2</text><line x1="362.30" y1="156.50" x2="365.20" y2="156.50" stroke="#555" stroke-width="1"/><text x="362.00" y="156.70" font-size="4.00" text-anchor="middle" font-weight="bold" fill="#222" transform="rotate(-90 362.00 156.70)">0.0</text><text x="395.90" y="161.40" font-size="3.30" text-anchor="end" font-weight="bold" fill="#222" transform="rotate(-90 395.90 161.40)">6</text><text x="425.60" y="161.40" font-size="3.30" text-anchor="end" font-weight="bold" fill="#222" transform="rotate(-90 425.60 161.40)">8</text><text x="455.30" y="161.40" font-size="3.30" text-anchor="end" font-weight="bold" fill="#222" transform="rotate(-90 455.30 161.40)">10</text><text x="485.00" y="161.40" font-size="3.30" text-anchor="end" font-weight="bold" fill="#222" transform="rotate(-90 485.00 161.40)">12</text><text x="436.85" y="168.30" font-size="5.70" text-anchor="middle" font-weight="normal" fill="#222" stroke="#222" stroke-width="0.18">mean HbA1c</text><text x="356.30" y="85.50" font-size="5.90" text-anchor="middle" font-weight="normal" fill="#222" transform="rotate(-90 356.30 85.50)" stroke="#222" stroke-width="0.08">Probability of CI</text><text x="350.30" y="11.00" font-size="6.20" text-anchor="middle" font-weight="normal" fill="#222">C</text><text x="382.10" y="26.90" font-size="3.45" text-anchor="middle" font-weight="bold" fill="#222">&lt;6.15</text><text x="382.10" y="31.10" font-size="3.45" text-anchor="middle" font-weight="bold" fill="#222">P = 0.460</text><text x="382.10" y="35.30" font-size="3.45" text-anchor="middle" font-weight="bold" fill="#222">0.753(0.360,1.098)</text><text x="454.90" y="26.90" font-size="3.45" text-anchor="middle" font-weight="bold" fill="#222">&gt;= 6.15</text><text x="454.90" y="31.10" font-size="3.45" text-anchor="middle" font-weight="bold" fill="#222">P = 0.104</text><text x="454.90" y="35.30" font-size="3.45" text-anchor="middle" font-weight="bold" fill="#222">1.105(0.980,1.256)</text><text x="461.90" y="144.20" font-size="3.30" text-anchor="middle" font-weight="bold" fill="#222">P overall: 0.2624</text><text x="461.90" y="148.50" font-size="3.30" text-anchor="middle" font-weight="bold" fill="#222">P non-linear: 0.5444</text><line x1="533.90" y1="15.50" x2="536.80" y2="15.50" stroke="#555" stroke-width="1"/><text x="533.60" y="15.20" font-size="4.00" text-anchor="middle" font-weight="bold" fill="#222" transform="rotate(-90 533.60 15.20)">1.0</text><line x1="533.90" y1="43.50" x2="536.80" y2="43.50" stroke="#555" stroke-width="1"/><text x="533.60" y="43.50" font-size="4.00" text-anchor="middle" font-weight="bold" fill="#222" transform="rotate(-90 533.60 43.50)">0.8</text><line x1="533.90" y1="71.50" x2="536.80" y2="71.50" stroke="#555" stroke-width="1"/><text x="533.60" y="71.80" font-size="4.00" text-anchor="middle" font-weight="bold" fill="#222" transform="rotate(-90 533.60 71.80)">0.6</text><line x1="533.90" y1="100.50" x2="536.80" y2="100.50" stroke="#555" stroke-width="1"/><text x="533.60" y="100.10" font-size="4.00" text-anchor="middle" font-weight="bold" fill="#222" transform="rotate(-90 533.60 100.10)">0.4</text><line x1="533.90" y1="128.50" x2="536.80" y2="128.50" stroke="#555" stroke-width="1"/><text x="533.60" y="128.40" font-size="4.00" text-anchor="middle" font-weight="bold" fill="#222" transform="rotate(-90 533.60 128.40)">0.2</text><line x1="533.90" y1="156.50" x2="536.80" y2="156.50" stroke="#555" stroke-width="1"/><text x="533.60" y="156.70" font-size="4.00" text-anchor="middle" font-weight="bold" fill="#222" transform="rotate(-90 533.60 156.70)">0.0</text><text x="567.50" y="161.40" font-size="3.30" text-anchor="end" font-weight="bold" fill="#222" transform="rotate(-90 567.50 161.40)">6</text><text x="597.20" y="161.40" font-size="3.30" text-anchor="end" font-weight="bold" fill="#222" transform="rotate(-90 597.20 161.40)">8</text><text x="626.90" y="161.40" font-size="3.30" text-anchor="end" font-weight="bold" fill="#222" transform="rotate(-90 626.90 161.40)">10</text><text x="656.60" y="161.40" font-size="3.30" text-anchor="end" font-weight="bold" fill="#222" transform="rotate(-90 656.60 161.40)">12</text><text x="608.55" y="168.30" font-size="5.70" text-anchor="middle" font-weight="normal" fill="#222" stroke="#222" stroke-width="0.18">mean HbA1c</text><text x="527.90" y="85.50" font-size="5.90" text-anchor="middle" font-weight="normal" fill="#222" transform="rotate(-90 527.90 85.50)" stroke="#222" stroke-width="0.08">Probability of CI</text><text x="521.90" y="11.00" font-size="6.20" text-anchor="middle" font-weight="normal" fill="#222">D</text><text x="553.70" y="26.90" font-size="3.45" text-anchor="middle" font-weight="bold" fill="#222">&lt;6.15</text><text x="553.70" y="31.10" font-size="3.45" text-anchor="middle" font-weight="bold" fill="#222">P = 0.380</text><text x="553.70" y="35.30" font-size="3.45" text-anchor="middle" font-weight="bold" fill="#222">0.205(0.076,1.656)</text><text x="626.50" y="26.90" font-size="3.45" text-anchor="middle" font-weight="bold" fill="#222">&gt;= 6.15</text><text x="626.50" y="31.10" font-size="3.45" text-anchor="middle" font-weight="bold" fill="#222">P = 0.034</text><text x="626.50" y="35.30" font-size="3.45" text-anchor="middle" font-weight="bold" fill="#222">1.190(0.862, 1.021)</text><text x="633.50" y="144.20" font-size="3.30" text-anchor="middle" font-weight="bold" fill="#222">P overall: 0.1418</text><text x="633.50" y="148.50" font-size="3.30" text-anchor="middle" font-weight="bold" fill="#222">P non-linear: 0.7217</text><text x="4.90" y="87.40" font-size="5.95" text-anchor="middle" font-weight="bold" fill="#222" transform="rotate(-90 4.90 87.40)" stroke="#222" stroke-width="0.15">Global Cognition</text><line x1="18.80" y1="186.50" x2="21.70" y2="186.50" stroke="#555" stroke-width="1"/><text x="18.50" y="186.90" font-size="4.00" text-anchor="middle" font-weight="bold" fill="#222" transform="rotate(-90 18.50 186.90)">1.0</text><line x1="18.80" y1="215.50" x2="21.70" y2="215.50" stroke="#555" stroke-width="1"/><text x="18.50" y="215.20" font-size="4.00" text-anchor="middle" font-weight="bold" fill="#222" transform="rotate(-90 18.50 215.20)">0.8</text><line x1="18.80" y1="243.50" x2="21.70" y2="243.50" stroke="#555" stroke-width="1"/><text x="18.50" y="243.50" font-size="4.00" text-anchor="middle" font-weight="bold" fill="#222" transform="rotate(-90 18.50 243.50)">0.6</text><line x1="18.80" y1="271.50" x2="21.70" y2="271.50" stroke="#555" stroke-width="1"/><text x="18.50" y="271.80" font-size="4.00" text-anchor="middle" font-weight="bold" fill="#222" transform="rotate(-90 18.50 271.80)">0.4</text><line x1="18.80" y1="300.50" x2="21.70" y2="300.50" stroke="#555" stroke-width="1"/><text x="18.50" y="300.10" font-size="4.00" text-anchor="middle" font-weight="bold" fill="#222" transform="rotate(-90 18.50 300.10)">0.2</text><line x1="18.80" y1="328.50" x2="21.70" y2="328.50" stroke="#555" stroke-width="1"/><text x="18.50" y="328.40" font-size="4.00" text-anchor="middle" font-weight="bold" fill="#222" transform="rotate(-90 18.50 328.40)">0.0</text><text x="52.40" y="333.40" font-size="3.30" text-anchor="end" font-weight="bold" fill="#222" transform="rotate(-90 52.40 333.40)">6</text><text x="82.10" y="333.40" font-size="3.30" text-anchor="end" font-weight="bold" fill="#222" transform="rotate(-90 82.10 333.40)">8</text><text x="111.80" y="333.40" font-size="3.30" text-anchor="end" font-weight="bold" fill="#222" transform="rotate(-90 111.80 333.40)">10</text><text x="141.50" y="333.40" font-size="3.30" text-anchor="end" font-weight="bold" fill="#222" transform="rotate(-90 141.50 333.40)">12</text><text x="93.75" y="340.30" font-size="5.70" text-anchor="middle" font-weight="normal" fill="#444">mean HbA1c</text><text x="12.80" y="257.20" font-size="5.90" text-anchor="middle" font-weight="normal" fill="#222" transform="rotate(-90 12.80 257.20)" stroke="#222" stroke-width="0.08">Probability of CI</text><text x="1.90" y="185.80" font-size="6.20" text-anchor="start" font-weight="normal" fill="#222">E</text><text x="38.60" y="198.10" font-size="3.45" text-anchor="middle" font-weight="bold" fill="#222">&lt;6.15</text><text x="38.60" y="202.30" font-size="3.45" text-anchor="middle" font-weight="bold" fill="#222">P = 0.392</text><text x="38.60" y="206.50" font-size="3.45" text-anchor="middle" font-weight="bold" fill="#222">1.289(0.724,2.279)</text><text x="111.40" y="198.10" font-size="3.45" text-anchor="middle" font-weight="bold" fill="#222">&gt;= 6.15</text><text x="111.40" y="202.30" font-size="3.45" text-anchor="middle" font-weight="bold" fill="#222">P = 0.490</text><text x="111.40" y="206.50" font-size="3.45" text-anchor="middle" font-weight="bold" fill="#222">1.064(0.921,1.230)</text><text x="118.40" y="315.90" font-size="3.30" text-anchor="middle" font-weight="bold" fill="#222">P overall: 0.6008</text><text x="118.40" y="320.20" font-size="3.30" text-anchor="middle" font-weight="bold" fill="#222">P non-linear: 0.4563</text><line x1="190.50" y1="186.50" x2="193.40" y2="186.50" stroke="#555" stroke-width="1"/><text x="190.20" y="186.90" font-size="4.00" text-anchor="middle" font-weight="bold" fill="#222" transform="rotate(-90 190.20 186.90)">1.0</text><line x1="190.50" y1="215.50" x2="193.40" y2="215.50" stroke="#555" stroke-width="1"/><text x="190.20" y="215.20" font-size="4.00" text-anchor="middle" font-weight="bold" fill="#222" transform="rotate(-90 190.20 215.20)">0.8</text><line x1="190.50" y1="243.50" x2="193.40" y2="243.50" stroke="#555" stroke-width="1"/><text x="190.20" y="243.50" font-size="4.00" text-anchor="middle" font-weight="bold" fill="#222" transform="rotate(-90 190.20 243.50)">0.6</text><line x1="190.50" y1="271.50" x2="193.40" y2="271.50" stroke="#555" stroke-width="1"/><text x="190.20" y="271.80" font-size="4.00" text-anchor="middle" font-weight="bold" fill="#222" transform="rotate(-90 190.20 271.80)">0.4</text><line x1="190.50" y1="300.50" x2="193.40" y2="300.50" stroke="#555" stroke-width="1"/><text x="190.20" y="300.10" font-size="4.00" text-anchor="middle" font-weight="bold" fill="#222" transform="rotate(-90 190.20 300.10)">0.2</text><line x1="190.50" y1="328.50" x2="193.40" y2="328.50" stroke="#555" stroke-width="1"/><text x="190.20" y="328.40" font-size="4.00" text-anchor="middle" font-weight="bold" fill="#222" transform="rotate(-90 190.20 328.40)">0.0</text><text x="224.10" y="333.40" font-size="3.30" text-anchor="end" font-weight="bold" fill="#222" transform="rotate(-90 224.10 333.40)">6</text><text x="253.80" y="333.40" font-size="3.30" text-anchor="end" font-weight="bold" fill="#222" transform="rotate(-90 253.80 333.40)">8</text><text x="283.50" y="333.40" font-size="3.30" text-anchor="end" font-weight="bold" fill="#222" transform="rotate(-90 283.50 333.40)">10</text><text x="313.20" y="333.40" font-size="3.30" text-anchor="end" font-weight="bold" fill="#222" transform="rotate(-90 313.20 333.40)">12</text><text x="265.25" y="340.30" font-size="5.70" text-anchor="middle" font-weight="normal" fill="#444">mean HbA1c</text><text x="184.50" y="257.20" font-size="5.90" text-anchor="middle" font-weight="normal" fill="#222" transform="rotate(-90 184.50 257.20)" stroke="#222" stroke-width="0.08">Probability of CI</text><text x="178.50" y="185.80" font-size="6.20" text-anchor="middle" font-weight="normal" fill="#222">F</text><text x="210.30" y="198.10" font-size="3.45" text-anchor="middle" font-weight="bold" fill="#222">&lt;6.15</text><text x="210.30" y="202.30" font-size="3.45" text-anchor="middle" font-weight="bold" fill="#222">P = 0.548</text><text x="210.30" y="206.50" font-size="3.45" text-anchor="middle" font-weight="bold" fill="#222">1.283(0.563,2.600)</text><text x="283.10" y="198.10" font-size="3.45" text-anchor="middle" font-weight="bold" fill="#222">&gt;= 6.15</text><text x="283.10" y="202.30" font-size="3.45" text-anchor="middle" font-weight="bold" fill="#222">P = 0.463</text><text x="283.10" y="206.50" font-size="3.45" text-anchor="middle" font-weight="bold" fill="#222">1.060(0.908,1.302)</text><text x="290.10" y="315.90" font-size="3.30" text-anchor="middle" font-weight="bold" fill="#222">P overall: 0.7656</text><text x="290.10" y="320.20" font-size="3.30" text-anchor="middle" font-weight="bold" fill="#222">P non-linear: 0.8948</text><line x1="362.30" y1="186.50" x2="365.20" y2="186.50" stroke="#555" stroke-width="1"/><text x="362.00" y="186.90" font-size="4.00" text-anchor="middle" font-weight="bold" fill="#222" transform="rotate(-90 362.00 186.90)">1.0</text><line x1="362.30" y1="215.50" x2="365.20" y2="215.50" stroke="#555" stroke-width="1"/><text x="362.00" y="215.20" font-size="4.00" text-anchor="middle" font-weight="bold" fill="#222" transform="rotate(-90 362.00 215.20)">0.8</text><line x1="362.30" y1="243.50" x2="365.20" y2="243.50" stroke="#555" stroke-width="1"/><text x="362.00" y="243.50" font-size="4.00" text-anchor="middle" font-weight="bold" fill="#222" transform="rotate(-90 362.00 243.50)">0.6</text><line x1="362.30" y1="271.50" x2="365.20" y2="271.50" stroke="#555" stroke-width="1"/><text x="362.00" y="271.80" font-size="4.00" text-anchor="middle" font-weight="bold" fill="#222" transform="rotate(-90 362.00 271.80)">0.4</text><line x1="362.30" y1="300.50" x2="365.20" y2="300.50" stroke="#555" stroke-width="1"/><text x="362.00" y="300.10" font-size="4.00" text-anchor="middle" font-weight="bold" fill="#222" transform="rotate(-90 362.00 300.10)">0.2</text><line x1="362.30" y1="328.50" x2="365.20" y2="328.50" stroke="#555" stroke-width="1"/><text x="362.00" y="328.40" font-size="4.00" text-anchor="middle" font-weight="bold" fill="#222" transform="rotate(-90 362.00 328.40)">0.0</text><text x="395.90" y="333.40" font-size="3.30" text-anchor="end" font-weight="bold" fill="#222" transform="rotate(-90 395.90 333.40)">6</text><text x="425.60" y="333.40" font-size="3.30" text-anchor="end" font-weight="bold" fill="#222" transform="rotate(-90 425.60 333.40)">8</text><text x="455.30" y="333.40" font-size="3.30" text-anchor="end" font-weight="bold" fill="#222" transform="rotate(-90 455.30 333.40)">10</text><text x="485.00" y="333.40" font-size="3.30" text-anchor="end" font-weight="bold" fill="#222" transform="rotate(-90 485.00 333.40)">12</text><text x="436.85" y="340.30" font-size="5.70" text-anchor="middle" font-weight="normal" fill="#444">mean HbA1c</text><text x="356.30" y="257.20" font-size="5.90" text-anchor="middle" font-weight="normal" fill="#222" transform="rotate(-90 356.30 257.20)" stroke="#222" stroke-width="0.08">Probability of CI</text><text x="350.30" y="185.80" font-size="6.20" text-anchor="middle" font-weight="normal" fill="#222">G</text><text x="382.10" y="198.10" font-size="3.45" text-anchor="middle" font-weight="bold" fill="#222">&lt;6.15</text><text x="382.10" y="202.30" font-size="3.45" text-anchor="middle" font-weight="bold" fill="#222">P = 0.288</text><text x="382.10" y="206.50" font-size="3.45" text-anchor="middle" font-weight="bold" fill="#222">1.323(0.380,2.560)</text><text x="454.90" y="198.10" font-size="3.45" text-anchor="middle" font-weight="bold" fill="#222">&gt;= 6.15</text><text x="454.90" y="202.30" font-size="3.45" text-anchor="middle" font-weight="bold" fill="#222">P = 0.217</text><text x="454.90" y="206.50" font-size="3.45" text-anchor="middle" font-weight="bold" fill="#222">1.123(0.928,1.368)</text><text x="461.90" y="315.90" font-size="3.30" text-anchor="middle" font-weight="bold" fill="#222">P overall: 0.581</text><text x="461.90" y="320.20" font-size="3.30" text-anchor="middle" font-weight="bold" fill="#222">P non-linear: 0.7891</text><line x1="533.90" y1="186.50" x2="536.80" y2="186.50" stroke="#555" stroke-width="1"/><text x="533.60" y="186.90" font-size="4.00" text-anchor="middle" font-weight="bold" fill="#222" transform="rotate(-90 533.60 186.90)">1.0</text><line x1="533.90" y1="215.50" x2="536.80" y2="215.50" stroke="#555" stroke-width="1"/><text x="533.60" y="215.20" font-size="4.00" text-anchor="middle" font-weight="bold" fill="#222" transform="rotate(-90 533.60 215.20)">0.8</text><line x1="533.90" y1="243.50" x2="536.80" y2="243.50" stroke="#555" stroke-width="1"/><text x="533.60" y="243.50" font-size="4.00" text-anchor="middle" font-weight="bold" fill="#222" transform="rotate(-90 533.60 243.50)">0.6</text><line x1="533.90" y1="271.50" x2="536.80" y2="271.50" stroke="#555" stroke-width="1"/><text x="533.60" y="271.80" font-size="4.00" text-anchor="middle" font-weight="bold" fill="#222" transform="rotate(-90 533.60 271.80)">0.4</text><line x1="533.90" y1="300.50" x2="536.80" y2="300.50" stroke="#555" stroke-width="1"/><text x="533.60" y="300.10" font-size="4.00" text-anchor="middle" font-weight="bold" fill="#222" transform="rotate(-90 533.60 300.10)">0.2</text><line x1="533.90" y1="328.50" x2="536.80" y2="328.50" stroke="#555" stroke-width="1"/><text x="533.60" y="328.40" font-size="4.00" text-anchor="middle" font-weight="bold" fill="#222" transform="rotate(-90 533.60 328.40)">0.0</text><text x="567.50" y="333.40" font-size="3.30" text-anchor="end" font-weight="bold" fill="#222" transform="rotate(-90 567.50 333.40)">6</text><text x="597.20" y="333.40" font-size="3.30" text-anchor="end" font-weight="bold" fill="#222" transform="rotate(-90 597.20 333.40)">8</text><text x="626.90" y="333.40" font-size="3.30" text-anchor="end" font-weight="bold" fill="#222" transform="rotate(-90 626.90 333.40)">10</text><text x="656.60" y="333.40" font-size="3.30" text-anchor="end" font-weight="bold" fill="#222" transform="rotate(-90 656.60 333.40)">12</text><text x="608.55" y="340.30" font-size="5.70" text-anchor="middle" font-weight="normal" fill="#444">mean HbA1c</text><text x="527.90" y="257.20" font-size="5.90" text-anchor="middle" font-weight="normal" fill="#222" transform="rotate(-90 527.90 257.20)" stroke="#222" stroke-width="0.08">Probability of CI</text><text x="521.90" y="185.80" font-size="6.20" text-anchor="middle" font-weight="normal" fill="#222">H</text><text x="553.70" y="198.10" font-size="3.45" text-anchor="middle" font-weight="bold" fill="#222">&lt;6.15</text><text x="553.70" y="202.30" font-size="3.45" text-anchor="middle" font-weight="bold" fill="#222">P = 0.085</text><text x="553.70" y="206.50" font-size="3.45" text-anchor="middle" font-weight="bold" fill="#222">0.030(0.196,2.349)</text><text x="626.50" y="198.10" font-size="3.45" text-anchor="middle" font-weight="bold" fill="#222">&gt;= 6.15</text><text x="626.50" y="202.30" font-size="3.45" text-anchor="middle" font-weight="bold" fill="#222">P = 0.669</text><text x="626.50" y="206.50" font-size="3.45" text-anchor="middle" font-weight="bold" fill="#222">1.017(1.07, 2.049)</text><text x="633.50" y="315.90" font-size="3.30" text-anchor="middle" font-weight="bold" fill="#222">P overall: 0.0543</text><text x="633.50" y="320.20" font-size="3.30" text-anchor="middle" font-weight="bold" fill="#222">P non-linear: 0.1769</text><text x="4.90" y="259.00" font-size="5.95" text-anchor="middle" font-weight="bold" fill="#222" transform="rotate(-90 4.90 259.00)" stroke="#222" stroke-width="0.15">Episodic Memory</text><line x1="18.80" y1="358.50" x2="21.70" y2="358.50" stroke="#555" stroke-width="1"/><text x="18.50" y="358.20" font-size="4.00" text-anchor="middle" font-weight="bold" fill="#222" transform="rotate(-90 18.50 358.20)">1.0</text><line x1="18.80" y1="386.50" x2="21.70" y2="386.50" stroke="#555" stroke-width="1"/><text x="18.50" y="386.50" font-size="4.00" text-anchor="middle" font-weight="bold" fill="#222" transform="rotate(-90 18.50 386.50)">0.8</text><line x1="18.80" y1="414.50" x2="21.70" y2="414.50" stroke="#555" stroke-width="1"/><text x="18.50" y="414.80" font-size="4.00" text-anchor="middle" font-weight="bold" fill="#222" transform="rotate(-90 18.50 414.80)">0.6</text><line x1="18.80" y1="443.50" x2="21.70" y2="443.50" stroke="#555" stroke-width="1"/><text x="18.50" y="443.10" font-size="4.00" text-anchor="middle" font-weight="bold" fill="#222" transform="rotate(-90 18.50 443.10)">0.4</text><line x1="18.80" y1="471.50" x2="21.70" y2="471.50" stroke="#555" stroke-width="1"/><text x="18.50" y="471.40" font-size="4.00" text-anchor="middle" font-weight="bold" fill="#222" transform="rotate(-90 18.50 471.40)">0.2</text><line x1="18.80" y1="499.50" x2="21.70" y2="499.50" stroke="#555" stroke-width="1"/><text x="18.50" y="499.70" font-size="4.00" text-anchor="middle" font-weight="bold" fill="#222" transform="rotate(-90 18.50 499.70)">0.0</text><text x="52.40" y="504.50" font-size="3.30" text-anchor="end" font-weight="bold" fill="#222" transform="rotate(-90 52.40 504.50)">6</text><text x="82.10" y="504.50" font-size="3.30" text-anchor="end" font-weight="bold" fill="#222" transform="rotate(-90 82.10 504.50)">8</text><text x="111.80" y="504.50" font-size="3.30" text-anchor="end" font-weight="bold" fill="#222" transform="rotate(-90 111.80 504.50)">10</text><text x="141.50" y="504.50" font-size="3.30" text-anchor="end" font-weight="bold" fill="#222" transform="rotate(-90 141.50 504.50)">12</text><text x="93.75" y="511.40" font-size="5.70" text-anchor="middle" font-weight="normal" fill="#333" stroke="#333" stroke-width="0.05">mean HbA1c</text><text x="12.80" y="428.50" font-size="5.90" text-anchor="middle" font-weight="normal" fill="#222" transform="rotate(-90 12.80 428.50)" stroke="#222" stroke-width="0.08">Probability of CI</text><text x="2.00" y="359.80" font-size="6.20" text-anchor="start" font-weight="normal" fill="#222">I</text><text x="38.60" y="369.50" font-size="3.45" text-anchor="middle" font-weight="bold" fill="#222">&lt;6.15</text><text x="38.60" y="373.70" font-size="3.45" text-anchor="middle" font-weight="bold" fill="#222">P = 0.849</text><text x="38.60" y="377.90" font-size="3.45" text-anchor="middle" font-weight="bold" fill="#222">0.929(0.183,7.988)</text><text x="111.40" y="369.50" font-size="3.45" text-anchor="middle" font-weight="bold" fill="#222">&gt;= 6.15</text><text x="111.40" y="373.70" font-size="3.45" text-anchor="middle" font-weight="bold" fill="#222">P = 0.284</text><text x="111.40" y="377.90" font-size="3.45" text-anchor="middle" font-weight="bold" fill="#222">1.113(0.915,1.356)</text><text x="118.40" y="487.20" font-size="3.30" text-anchor="middle" font-weight="bold" fill="#222">P overall: 0.1767</text><text x="118.40" y="491.50" font-size="3.30" text-anchor="middle" font-weight="bold" fill="#222">P non-linear: 0.1021</text><line x1="190.50" y1="358.50" x2="193.40" y2="358.50" stroke="#555" stroke-width="1"/><text x="190.20" y="358.20" font-size="4.00" text-anchor="middle" font-weight="bold" fill="#222" transform="rotate(-90 190.20 358.20)">1.0</text><line x1="190.50" y1="386.50" x2="193.40" y2="386.50" stroke="#555" stroke-width="1"/><text x="190.20" y="386.50" font-size="4.00" text-anchor="middle" font-weight="bold" fill="#222" transform="rotate(-90 190.20 386.50)">0.8</text><line x1="190.50" y1="414.50" x2="193.40" y2="414.50" stroke="#555" stroke-width="1"/><text x="190.20" y="414.80" font-size="4.00" text-anchor="middle" font-weight="bold" fill="#222" transform="rotate(-90 190.20 414.80)">0.6</text><line x1="190.50" y1="443.50" x2="193.40" y2="443.50" stroke="#555" stroke-width="1"/><text x="190.20" y="443.10" font-size="4.00" text-anchor="middle" font-weight="bold" fill="#222" transform="rotate(-90 190.20 443.10)">0.4</text><line x1="190.50" y1="471.50" x2="193.40" y2="471.50" stroke="#555" stroke-width="1"/><text x="190.20" y="471.40" font-size="4.00" text-anchor="middle" font-weight="bold" fill="#222" transform="rotate(-90 190.20 471.40)">0.2</text><line x1="190.50" y1="499.50" x2="193.40" y2="499.50" stroke="#555" stroke-width="1"/><text x="190.20" y="499.70" font-size="4.00" text-anchor="middle" font-weight="bold" fill="#222" transform="rotate(-90 190.20 499.70)">0.0</text><text x="224.10" y="504.50" font-size="3.30" text-anchor="end" font-weight="bold" fill="#222" transform="rotate(-90 224.10 504.50)">6</text><text x="253.80" y="504.50" font-size="3.30" text-anchor="end" font-weight="bold" fill="#222" transform="rotate(-90 253.80 504.50)">8</text><text x="283.50" y="504.50" font-size="3.30" text-anchor="end" font-weight="bold" fill="#222" transform="rotate(-90 283.50 504.50)">10</text><text x="313.20" y="504.50" font-size="3.30" text-anchor="end" font-weight="bold" fill="#222" transform="rotate(-90 313.20 504.50)">12</text><text x="265.25" y="511.40" font-size="5.70" text-anchor="middle" font-weight="normal" fill="#333" stroke="#333" stroke-width="0.05">mean HbA1c</text><text x="184.50" y="428.50" font-size="5.90" text-anchor="middle" font-weight="normal" fill="#222" transform="rotate(-90 184.50 428.50)" stroke="#222" stroke-width="0.08">Probability of CI</text><text x="178.50" y="359.80" font-size="6.20" text-anchor="middle" font-weight="normal" fill="#222">J</text><text x="210.30" y="369.50" font-size="3.45" text-anchor="middle" font-weight="bold" fill="#222">&lt;6.15</text><text x="210.30" y="373.70" font-size="3.45" text-anchor="middle" font-weight="bold" fill="#222">P = 0.860</text><text x="210.30" y="377.90" font-size="3.45" text-anchor="middle" font-weight="bold" fill="#222">1.036(0.637,8.097)</text><text x="283.10" y="369.50" font-size="3.45" text-anchor="middle" font-weight="bold" fill="#222">&gt;= 6.15</text><text x="283.10" y="373.70" font-size="3.45" text-anchor="middle" font-weight="bold" fill="#222">P = 0.237</text><text x="283.10" y="377.90" font-size="3.45" text-anchor="middle" font-weight="bold" fill="#222">1.136(0.918,1.406)</text><text x="290.10" y="487.20" font-size="3.30" text-anchor="middle" font-weight="bold" fill="#222">P overall: 0.3779</text><text x="290.10" y="491.50" font-size="3.30" text-anchor="middle" font-weight="bold" fill="#222">P non-linear: 0.290</text><line x1="362.30" y1="358.50" x2="365.20" y2="358.50" stroke="#555" stroke-width="1"/><text x="362.00" y="358.20" font-size="4.00" text-anchor="middle" font-weight="bold" fill="#222" transform="rotate(-90 362.00 358.20)">1.0</text><line x1="362.30" y1="386.50" x2="365.20" y2="386.50" stroke="#555" stroke-width="1"/><text x="362.00" y="386.50" font-size="4.00" text-anchor="middle" font-weight="bold" fill="#222" transform="rotate(-90 362.00 386.50)">0.8</text><line x1="362.30" y1="414.50" x2="365.20" y2="414.50" stroke="#555" stroke-width="1"/><text x="362.00" y="414.80" font-size="4.00" text-anchor="middle" font-weight="bold" fill="#222" transform="rotate(-90 362.00 414.80)">0.6</text><line x1="362.30" y1="443.50" x2="365.20" y2="443.50" stroke="#555" stroke-width="1"/><text x="362.00" y="443.10" font-size="4.00" text-anchor="middle" font-weight="bold" fill="#222" transform="rotate(-90 362.00 443.10)">0.4</text><line x1="362.30" y1="471.50" x2="365.20" y2="471.50" stroke="#555" stroke-width="1"/><text x="362.00" y="471.40" font-size="4.00" text-anchor="middle" font-weight="bold" fill="#222" transform="rotate(-90 362.00 471.40)">0.2</text><line x1="362.30" y1="499.50" x2="365.20" y2="499.50" stroke="#555" stroke-width="1"/><text x="362.00" y="499.70" font-size="4.00" text-anchor="middle" font-weight="bold" fill="#222" transform="rotate(-90 362.00 499.70)">0.0</text><text x="395.90" y="504.50" font-size="3.30" text-anchor="end" font-weight="bold" fill="#222" transform="rotate(-90 395.90 504.50)">6</text><text x="425.60" y="504.50" font-size="3.30" text-anchor="end" font-weight="bold" fill="#222" transform="rotate(-90 425.60 504.50)">8</text><text x="455.30" y="504.50" font-size="3.30" text-anchor="end" font-weight="bold" fill="#222" transform="rotate(-90 455.30 504.50)">10</text><text x="485.00" y="504.50" font-size="3.30" text-anchor="end" font-weight="bold" fill="#222" transform="rotate(-90 485.00 504.50)">12</text><text x="436.85" y="511.40" font-size="5.70" text-anchor="middle" font-weight="normal" fill="#333" stroke="#333" stroke-width="0.05">mean HbA1c</text><text x="356.30" y="428.50" font-size="5.90" text-anchor="middle" font-weight="normal" fill="#222" transform="rotate(-90 356.30 428.50)" stroke="#222" stroke-width="0.08">Probability of CI</text><text x="350.30" y="359.80" font-size="6.20" text-anchor="middle" font-weight="normal" fill="#222">K</text><text x="382.10" y="369.50" font-size="3.45" text-anchor="middle" font-weight="bold" fill="#222">&lt;6.15</text><text x="382.10" y="373.70" font-size="3.45" text-anchor="middle" font-weight="bold" fill="#222">P = 0.880</text><text x="382.10" y="377.90" font-size="3.45" text-anchor="middle" font-weight="bold" fill="#222">1.020(0.900,7.980)</text><text x="454.90" y="369.50" font-size="3.45" text-anchor="middle" font-weight="bold" fill="#222">&gt;= 6.15</text><text x="454.90" y="373.70" font-size="3.45" text-anchor="middle" font-weight="bold" fill="#222">P = 0.283</text><text x="454.90" y="377.90" font-size="3.45" text-anchor="middle" font-weight="bold" fill="#222">1.120(0.911,1.107)</text><text x="461.90" y="487.20" font-size="3.30" text-anchor="middle" font-weight="bold" fill="#222">P overall: 0.4156</text><text x="461.90" y="491.50" font-size="3.30" text-anchor="middle" font-weight="bold" fill="#222">P non-linear: 0.2695</text><line x1="533.90" y1="358.50" x2="536.80" y2="358.50" stroke="#555" stroke-width="1"/><text x="533.60" y="358.20" font-size="4.00" text-anchor="middle" font-weight="bold" fill="#222" transform="rotate(-90 533.60 358.20)">1.0</text><line x1="533.90" y1="386.50" x2="536.80" y2="386.50" stroke="#555" stroke-width="1"/><text x="533.60" y="386.50" font-size="4.00" text-anchor="middle" font-weight="bold" fill="#222" transform="rotate(-90 533.60 386.50)">0.8</text><line x1="533.90" y1="414.50" x2="536.80" y2="414.50" stroke="#555" stroke-width="1"/><text x="533.60" y="414.80" font-size="4.00" text-anchor="middle" font-weight="bold" fill="#222" transform="rotate(-90 533.60 414.80)">0.6</text><line x1="533.90" y1="443.50" x2="536.80" y2="443.50" stroke="#555" stroke-width="1"/><text x="533.60" y="443.10" font-size="4.00" text-anchor="middle" font-weight="bold" fill="#222" transform="rotate(-90 533.60 443.10)">0.4</text><line x1="533.90" y1="471.50" x2="536.80" y2="471.50" stroke="#555" stroke-width="1"/><text x="533.60" y="471.40" font-size="4.00" text-anchor="middle" font-weight="bold" fill="#222" transform="rotate(-90 533.60 471.40)">0.2</text><line x1="533.90" y1="499.50" x2="536.80" y2="499.50" stroke="#555" stroke-width="1"/><text x="533.60" y="499.70" font-size="4.00" text-anchor="middle" font-weight="bold" fill="#222" transform="rotate(-90 533.60 499.70)">0.0</text><text x="567.50" y="504.50" font-size="3.30" text-anchor="end" font-weight="bold" fill="#222" transform="rotate(-90 567.50 504.50)">6</text><text x="597.20" y="504.50" font-size="3.30" text-anchor="end" font-weight="bold" fill="#222" transform="rotate(-90 597.20 504.50)">8</text><text x="626.90" y="504.50" font-size="3.30" text-anchor="end" font-weight="bold" fill="#222" transform="rotate(-90 626.90 504.50)">10</text><text x="656.60" y="504.50" font-size="3.30" text-anchor="end" font-weight="bold" fill="#222" transform="rotate(-90 656.60 504.50)">12</text><text x="608.55" y="511.40" font-size="5.70" text-anchor="middle" font-weight="normal" fill="#333" stroke="#333" stroke-width="0.05">mean HbA1c</text><text x="527.90" y="428.50" font-size="5.90" text-anchor="middle" font-weight="normal" fill="#222" transform="rotate(-90 527.90 428.50)" stroke="#222" stroke-width="0.08">Probability of CI</text><text x="521.90" y="359.80" font-size="6.20" text-anchor="middle" font-weight="normal" fill="#222">L</text><text x="553.70" y="369.50" font-size="3.45" text-anchor="middle" font-weight="bold" fill="#222">&lt;6.15</text><text x="553.70" y="373.70" font-size="3.45" text-anchor="middle" font-weight="bold" fill="#222">P = 0.379</text><text x="553.70" y="377.90" font-size="3.45" text-anchor="middle" font-weight="bold" fill="#222">0.950(0.097,4.697)</text><text x="626.50" y="369.50" font-size="3.45" text-anchor="middle" font-weight="bold" fill="#222">&gt;= 6.15</text><text x="626.50" y="373.70" font-size="3.45" text-anchor="middle" font-weight="bold" fill="#222">P = 0.133</text><text x="615.80" y="377.90" font-size="3.45" text-anchor="end" font-weight="bold" fill="#222">1.311(0.905,</text><text x="644.60" y="377.90" font-size="3.45" text-anchor="start" font-weight="bold" fill="#222">2.085)</text><text x="633.50" y="487.20" font-size="3.30" text-anchor="middle" font-weight="bold" fill="#222">P overall: 0.0235</text><text x="633.50" y="491.50" font-size="3.30" text-anchor="middle" font-weight="bold" fill="#222">P non-linear: 0.0049</text><text x="4.90" y="428.40" font-size="5.95" text-anchor="middle" font-weight="bold" fill="#222" transform="rotate(-90 4.90 428.40)" stroke="#222" stroke-width="0.15">Mental Intactness</text><text x="93.75" y="8.40" font-size="5.60" text-anchor="middle" font-weight="normal" fill="#333" stroke="#333" stroke-width="0.18">crude model</text><text x="265.25" y="8.40" font-size="5.60" text-anchor="middle" font-weight="normal" fill="#333" stroke="#333" stroke-width="0.18">model 1</text><text x="436.85" y="8.40" font-size="5.60" text-anchor="middle" font-weight="normal" fill="#333" stroke="#333" stroke-width="0.18">model 2</text><text x="608.55" y="8.40" font-size="5.60" text-anchor="middle" font-weight="normal" fill="#333" stroke="#333" stroke-width="0.18">model 3</text></g></svg></body></html>
